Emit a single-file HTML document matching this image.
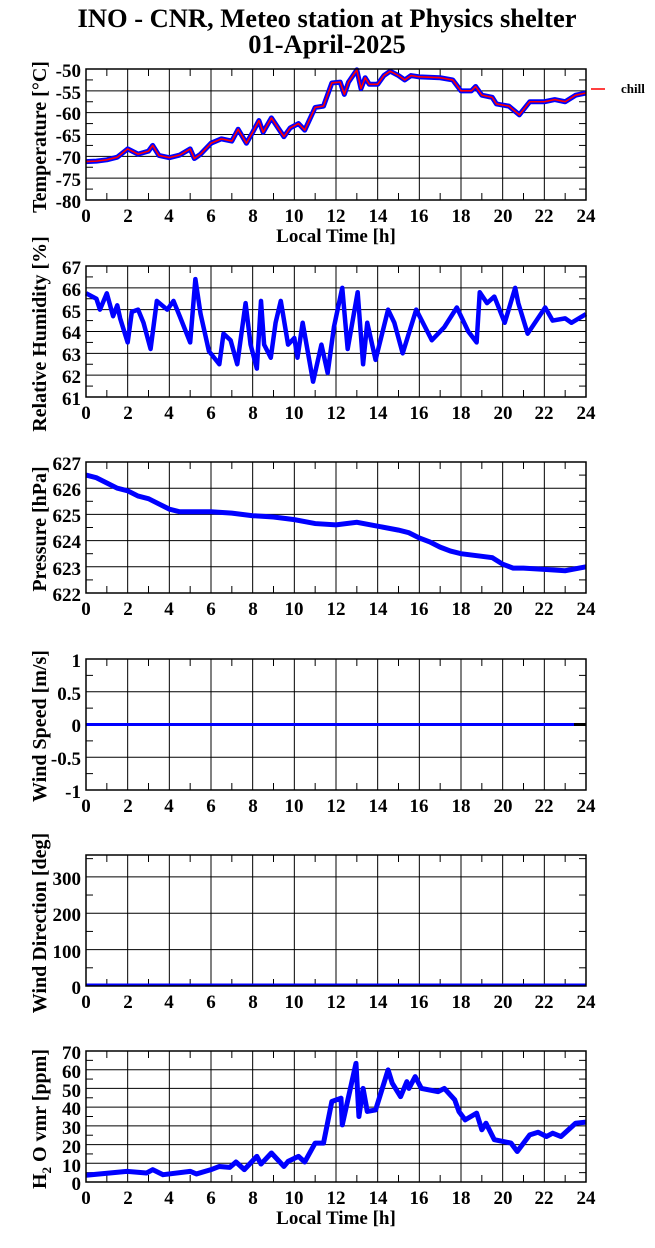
<!DOCTYPE html>
<html><head><meta charset="utf-8"><style>
html,body{margin:0;padding:0;background:#fff;}
svg{display:block;font-family:"Liberation Serif",serif;font-weight:bold;}
</style></head><body>
<svg id="s" width="655" height="1248" viewBox="0 0 655 1248" xmlns="http://www.w3.org/2000/svg">
<rect width="655" height="1248" fill="#fff"/>
<text x="327" y="27" font-size="26.5" text-anchor="middle">INO - CNR, Meteo station at Physics shelter</text>
<text x="327" y="53" font-size="26.5" text-anchor="middle">01-April-2025</text>
<g id="grid"></g>

<g transform="translate(86,200) scale(20.8333,-4.3667) translate(0,80)" fill="none" stroke-linejoin="round">
<polyline vector-effect="non-scaling-stroke" stroke="#0000ff" stroke-width="5" points="0,-71.2 0.5,-71.1 1,-70.8 1.5,-70.2 2,-68.3 2.5,-69.5 3,-68.8 3.2,-67.5 3.5,-69.8 4,-70.3 4.5,-69.7 5,-68.3 5.2,-70.5 5.5,-69.5 6,-67 6.5,-66 7,-66.5 7.3,-63.8 7.7,-67 8,-64.5 8.3,-61.8 8.5,-64.5 8.9,-61.2 9.5,-65.5 9.8,-63.5 10.2,-62.5 10.5,-64 11,-58.8 11.4,-58.5 11.8,-53.2 12.2,-53 12.4,-55.8 12.6,-53 13,-50.2 13.2,-54.5 13.4,-52 13.6,-53.5 14,-53.5 14.3,-51.5 14.6,-50.5 15,-51.5 15.3,-52.5 15.6,-51.5 16,-51.8 17,-52 17.6,-52.5 18,-55 18.5,-55 18.7,-54 19,-56 19.5,-56.5 19.7,-58 20.3,-58.5 20.8,-60.5 21.3,-57.5 22,-57.5 22.5,-57 23,-57.5 23.5,-56 24,-55.5"/>
<polyline vector-effect="non-scaling-stroke" stroke="#ff0000" stroke-width="1.6" points="0,-71.2 0.5,-71.1 1,-70.8 1.5,-70.2 2,-68.3 2.5,-69.5 3,-68.8 3.2,-67.5 3.5,-69.8 4,-70.3 4.5,-69.7 5,-68.3 5.2,-70.5 5.5,-69.5 6,-67 6.5,-66 7,-66.5 7.3,-63.8 7.7,-67 8,-64.5 8.3,-61.8 8.5,-64.5 8.9,-61.2 9.5,-65.5 9.8,-63.5 10.2,-62.5 10.5,-64 11,-58.8 11.4,-58.5 11.8,-53.2 12.2,-53 12.4,-55.8 12.6,-53 13,-50.2 13.2,-54.5 13.4,-52 13.6,-53.5 14,-53.5 14.3,-51.5 14.6,-50.5 15,-51.5 15.3,-52.5 15.6,-51.5 16,-51.8 17,-52 17.6,-52.5 18,-55 18.5,-55 18.7,-54 19,-56 19.5,-56.5 19.7,-58 20.3,-58.5 20.8,-60.5 21.3,-57.5 22,-57.5 22.5,-57 23,-57.5 23.5,-56 24,-55.5"/>
</g>
<line x1="591" y1="89" x2="605" y2="89" stroke="#ff0000" stroke-width="1.5"/>
<text x="621" y="93" font-size="13">chill</text>

<g transform="translate(86,397) scale(20.8333,-21.833) translate(0,-61)" fill="none">
<polyline vector-effect="non-scaling-stroke" stroke="#0000ff" stroke-width="4.5" stroke-linejoin="round" points="0,65.75 0.5,65.5 0.67,65 1,65.75 1.3,64.7 1.5,65.2 1.64,64.6 2,63.5 2.2,64.9 2.5,65 2.76,64.4 3.1,63.2 3.4,65.4 3.9,65 4.2,65.4 4.5,64.7 5,63.5 5.25,66.4 5.5,64.8 5.9,63.1 6.4,62.5 6.6,63.9 6.94,63.6 7.26,62.5 7.66,65.3 7.9,63.4 8.2,62.3 8.4,65.4 8.55,63.4 8.87,62.8 9.1,64.4 9.35,65.4 9.7,63.4 10,63.7 10.15,62.8 10.4,64.4 10.9,61.7 11.3,63.4 11.6,62.1 11.9,64.2 12.3,66 12.56,63.2 13.04,65.8 13.3,62.5 13.5,64.4 13.9,62.7 14.5,65 14.8,64.4 15.2,63 15.85,65 16.6,63.6 17.2,64.2 17.8,65.1 18.35,64 18.75,63.5 18.9,65.8 19.25,65.3 19.6,65.6 20.1,64.4 20.6,66 20.75,65.3 21.2,63.9 22.04,65.1 22.4,64.5 23,64.6 23.3,64.4 24,64.8"/>
</g>

<g transform="translate(86,593) scale(20.8333,-26.2) translate(0,-622)" fill="none">
<polyline vector-effect="non-scaling-stroke" stroke="#0000ff" stroke-width="5" points="0,626.5 0.5,626.4 1,626.2 1.5,626 2,625.9 2.5,625.7 3,625.6 3.5,625.4 4,625.2 4.5,625.1 5,625.1 6,625.1 7,625.05 8,624.95 9,624.9 10,624.8 11,624.65 12,624.6 13,624.7 14,624.55 15,624.4 15.5,624.3 16,624.1 16.5,623.95 17,623.75 17.5,623.6 18,623.5 19,623.4 19.5,623.35 20,623.1 20.5,622.95 21,622.95 22,622.9 23,622.85 24,623"/>
</g>

<line x1="86" y1="724.5" x2="574" y2="724.5" stroke="#0000ff" stroke-width="3"/>
<line x1="574" y1="724.5" x2="586" y2="724.5" stroke="#000" stroke-width="3"/>
<line x1="86" y1="985" x2="586" y2="985" stroke="#0000ff" stroke-width="3"/>

<g transform="translate(86,1182) scale(20.8333,-1.8714)" fill="none" stroke-linejoin="round">
<polyline vector-effect="non-scaling-stroke" stroke="#0000ff" stroke-width="5" points="0,3.6 1.96,5.7 2.9,4.8 3.2,6.6 3.7,3.9 5,5.7 5.3,4.3 6,6.6 6.4,8.3 6.9,7.8 7.2,10.7 7.6,6.6 8.2,13.7 8.4,9.6 8.9,15.5 9.5,8.3 9.7,11 10.2,13.7 10.5,10.7 11,20.8 11.4,20.8 11.8,43 12.24,44.8 12.3,30.5 12.96,63.4 13.1,35 13.3,50 13.5,37.7 13.9,38.5 14.5,59.9 14.7,52.8 15.1,45.6 15.4,53.6 15.5,50 15.8,56.3 16.1,50 16.9,48.3 17.2,50 17.7,43.9 17.9,37.7 18.2,33.2 18.75,36.8 19,27.9 19.2,31.4 19.6,22.6 20.4,20.8 20.7,16.3 21.3,25.2 21.7,26.6 22.1,24.3 22.4,26.1 22.8,24.3 23.5,31.4 24,32"/>
</g>

<g id="frames"></g>

<g font-size="19" text-anchor="end">
<text x="81" y="77">-50</text><text x="81" y="99">-55</text><text x="81" y="120">-60</text><text x="81" y="142">-65</text><text x="81" y="164">-70</text><text x="81" y="186">-75</text><text x="81" y="208">-80</text>
<text x="81" y="274">67</text><text x="81" y="296">66</text><text x="81" y="318">65</text><text x="81" y="339">64</text><text x="81" y="361">63</text><text x="81" y="383">62</text><text x="81" y="405">61</text>
<text x="81" y="470">627</text><text x="81" y="496">626</text><text x="81" y="522">625</text><text x="81" y="548">624</text><text x="81" y="575">623</text><text x="81" y="601">622</text>
<text x="81" y="667">1</text><text x="81" y="700">0.5</text><text x="81" y="732">0</text><text x="81" y="765">-0.5</text><text x="81" y="798">-1</text>
<text x="81" y="885">300</text><text x="81" y="921">200</text><text x="81" y="958">100</text><text x="81" y="994">0</text>
<text x="81" y="1059">70</text><text x="81" y="1078">60</text><text x="81" y="1097">50</text><text x="81" y="1115">40</text><text x="81" y="1134">30</text><text x="81" y="1153">20</text><text x="81" y="1172">10</text><text x="81" y="1190">0</text>
</g>

<g font-size="19" text-anchor="middle">
<g><text x="86" y="222">0</text><text x="128" y="222">2</text><text x="169" y="222">4</text><text x="211" y="222">6</text><text x="253" y="222">8</text><text x="294" y="222">10</text><text x="336" y="222">12</text><text x="378" y="222">14</text><text x="419" y="222">16</text><text x="461" y="222">18</text><text x="503" y="222">20</text><text x="544" y="222">22</text><text x="586" y="222">24</text></g>
<g transform="translate(0,197)"><text x="86" y="222">0</text><text x="128" y="222">2</text><text x="169" y="222">4</text><text x="211" y="222">6</text><text x="253" y="222">8</text><text x="294" y="222">10</text><text x="336" y="222">12</text><text x="378" y="222">14</text><text x="419" y="222">16</text><text x="461" y="222">18</text><text x="503" y="222">20</text><text x="544" y="222">22</text><text x="586" y="222">24</text></g>
<g transform="translate(0,393)"><text x="86" y="222">0</text><text x="128" y="222">2</text><text x="169" y="222">4</text><text x="211" y="222">6</text><text x="253" y="222">8</text><text x="294" y="222">10</text><text x="336" y="222">12</text><text x="378" y="222">14</text><text x="419" y="222">16</text><text x="461" y="222">18</text><text x="503" y="222">20</text><text x="544" y="222">22</text><text x="586" y="222">24</text></g>
<g transform="translate(0,590)"><text x="86" y="222">0</text><text x="128" y="222">2</text><text x="169" y="222">4</text><text x="211" y="222">6</text><text x="253" y="222">8</text><text x="294" y="222">10</text><text x="336" y="222">12</text><text x="378" y="222">14</text><text x="419" y="222">16</text><text x="461" y="222">18</text><text x="503" y="222">20</text><text x="544" y="222">22</text><text x="586" y="222">24</text></g>
<g transform="translate(0,786)"><text x="86" y="222">0</text><text x="128" y="222">2</text><text x="169" y="222">4</text><text x="211" y="222">6</text><text x="253" y="222">8</text><text x="294" y="222">10</text><text x="336" y="222">12</text><text x="378" y="222">14</text><text x="419" y="222">16</text><text x="461" y="222">18</text><text x="503" y="222">20</text><text x="544" y="222">22</text><text x="586" y="222">24</text></g>
<g transform="translate(0,982)"><text x="86" y="222">0</text><text x="128" y="222">2</text><text x="169" y="222">4</text><text x="211" y="222">6</text><text x="253" y="222">8</text><text x="294" y="222">10</text><text x="336" y="222">12</text><text x="378" y="222">14</text><text x="419" y="222">16</text><text x="461" y="222">18</text><text x="503" y="222">20</text><text x="544" y="222">22</text><text x="586" y="222">24</text></g>
<text x="336" y="242" font-size="19">Local Time [h]</text>
<text x="336" y="1224" font-size="19">Local Time [h]</text>
</g>

<g font-size="20" text-anchor="middle">
<text transform="translate(46,137) rotate(-90)">Temperature [°C]</text>
<text transform="translate(46,334) rotate(-90)">Relative Humidity [%]</text>
<text transform="translate(46,529) rotate(-90)">Pressure [hPa]</text>
<text transform="translate(46,726) rotate(-90)">Wind Speed [m/s]</text>
<text transform="translate(46,923) rotate(-90)">Wind Direction [deg]</text>
<text transform="translate(46,1119) rotate(-90)">H<tspan font-size="13" dy="5">2</tspan><tspan dy="-5"> O vmr [ppm]</tspan></text>
</g>
</svg>
<script>
(function(){
var NS="http://www.w3.org/2000/svg";
var g=document.getElementById("grid"), fr=document.getElementById("frames");
function L(p,x1,y1,x2,y2,w){var l=document.createElementNS(NS,"line");l.setAttribute("x1",x1);l.setAttribute("y1",y1);l.setAttribute("x2",x2);l.setAttribute("y2",y2);l.setAttribute("stroke","#000");l.setAttribute("stroke-width",w||1);p.appendChild(l);}
var X0=86,X1=586,H=131;
function frame(T){var r=document.createElementNS(NS,"rect");r.setAttribute("x",X0);r.setAttribute("y",T);r.setAttribute("width",500);r.setAttribute("height",H);r.setAttribute("fill","none");r.setAttribute("stroke","#000");r.setAttribute("stroke-width",1.5);fr.appendChild(r);}
function xt(T,B){for(var h=1;h<24;h++){var x=X0+500*h/24;if(h%2==0)L(g,x,T,x,B,1);else{L(g,x,T,x,T+7,1);L(g,x,B-7,x,B,1);}}}
var panels=[[69,6],[266,6],[462,5],[659,4],[1051,7]];
panels.forEach(function(p){
 var T=p[0],B=T+H,n=p[1];
 for(var i=1;i<n;i++){var y=B-H*i/n;L(g,X0,y,X1,y,1);}
 for(var j=1;j<2*n;j+=2){var y=B-H*j/(2*n);L(g,X0,y,X0+7,y,1);L(g,X1-7,y,X1,y,1);}
 xt(T,B);frame(T);
});
var T=855,B=986;
for(var v=50;v<360;v+=50){var y=B-H*v/360;if(v%100==0)L(g,X0,y,X1,y,1);else{L(g,X0,y,X0+7,y,1);L(g,X1-7,y,X1,y,1);}}
xt(T,B);frame(T);
})();
</script>
</body></html>
